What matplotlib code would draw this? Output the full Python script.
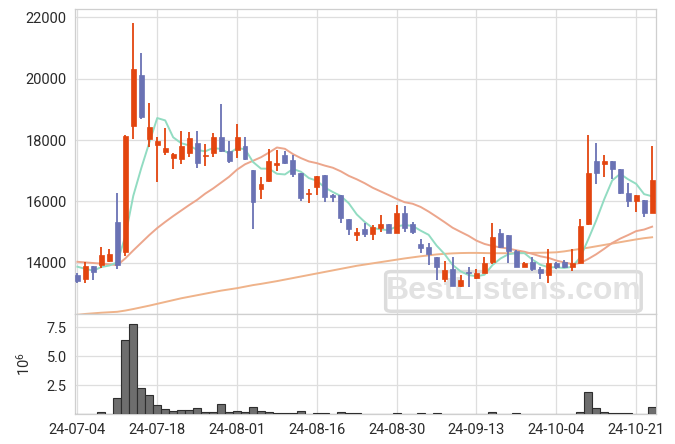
import matplotlib
matplotlib.use("Agg")
import matplotlib.pyplot as plt
import numpy as np
from matplotlib.patches import FancyBboxPatch

plt.rcParams['font.family'] = ['Roboto', 'DejaVu Sans']

# ---------------- data ----------------
opens = [13600, 13460, 13890, 13925, 14065, 15330, 14360, 18456, 20120, 18040,
         17827, 17620, 17420, 17370, 17585, 17900, 17480, 17585, 18090, 17640,
         17675, 17805, 17020, 16395, 16675, 17195, 17510, 17350, 16915, 16250,
         16480, 16860, 16205, 16205, 15425, 14915, 15090, 14925, 15140, 15250,
         14980, 15630, 15260, 14610, 14500, 14195, 13470, 13795, 13250, 13705,
         13490, 13655, 14015, 14960, 14895, 14390, 13870, 14030, 13795, 13600,
         13980, 14033, 13870, 14000, 15260, 17315, 17210, 17315, 17045, 16280,
         16020, 16045, 15630]
highs = [13650, 14030, 13900, 14500, 14440, 16280, 18150, 21800, 20850, 19200,
         18110, 18380, 17590, 18300, 18270, 18300, 17860, 18220, 19165, 17975,
         18510, 18090, 17030, 16805, 17700, 17675, 17650, 17510, 16920, 16395,
         16830, 16860, 16230, 16210, 15430, 15120, 15305, 15230, 15555, 15255,
         15880, 15850, 15335, 14765, 14630, 14200, 14055, 14200, 13600, 13870,
         13785, 14175, 15285, 15090, 14900, 14400, 14025, 14175, 13870, 14435,
         14035, 14090, 14435, 15415, 18165, 17890, 17510, 17320, 17060, 16610,
         16210, 16050, 17805]
lows = [13330, 13350, 13440, 13820, 14030, 13790, 14220, 18020, 18700, 17780,
        16640, 17510, 17045, 17220, 17455, 17080, 17150, 17435, 17600, 17260,
        17405, 17350, 15090, 16065, 16640, 17000, 17210, 16785, 16010, 15955,
        16205, 15970, 15970, 15285, 14905, 14705, 14830, 14740, 15010, 14955,
        14975, 15010, 14935, 14305, 13925, 13435, 13360, 13245, 13200, 13220,
        13470, 13650, 13950, 14480, 13980, 13865, 13850, 13740, 13460, 13350,
        13795, 13840, 13740, 13985, 15230, 16565, 16785, 16720, 16250, 15805,
        15665, 15480, 15630]
closes = [13410, 13890, 13710, 14250, 14285, 13925, 18130, 20305, 18760, 18425,
          17967, 17750, 17545, 17805, 18055, 17240, 17510, 18090, 17650, 17325,
          18090, 17370, 15990, 16565, 17315, 17260, 17260, 16880, 16120, 16280,
          16825, 16150, 16150, 15470, 15100, 15000, 14925, 15155, 15260, 14960,
          15630, 15140, 15010, 14490, 14285, 13870, 13760, 13250, 13435, 13675,
          13675, 14000, 14830, 14500, 14380, 13870, 13980, 13785, 13655, 13980,
          13850, 13870, 13980, 15195, 16915, 16935, 17315, 17045, 16280, 16020,
          16205, 15630, 16695]
volume_m = [0.03, 0.03, 0.03, 0.17, 0.03, 1.37, 6.43, 7.80, 2.23, 1.63,
            0.77, 0.46, 0.26, 0.34, 0.34, 0.51, 0.17, 0.17, 0.91, 0.17,
            0.26, 0.17, 0.60, 0.26, 0.17, 0.09, 0.09, 0.09, 0.26, 0.03,
            0.09, 0.09, 0.03, 0.17, 0.10, 0.10, 0.03, 0.03, 0.03, 0.03,
            0.10, 0.03, 0.03, 0.10, 0.03, 0.10, 0.03, 0.03, 0.03, 0.03,
            0.03, 0.03, 0.20, 0.03, 0.03, 0.10, 0.03, 0.03, 0.03, 0.03,
            0.0, 0.0, 0.0, 0.20, 1.94, 0.57, 0.23, 0.14, 0.14, 0.14,
            0.06, 0.06, 0.66]
ma5 = [13870, 13800, 13740, 13860, 13909, 14012, 14860, 16179, 17081, 17909,
       18717, 18641, 18089, 17898, 17824, 17679, 17631, 17740, 17709, 17563,
       17733, 17705, 17285, 17068, 17066, 16900, 16878, 17056, 16967, 16760,
       16673, 16451, 16305, 16175, 15939, 15574, 15329, 15130, 15088, 15060,
       15186, 15229, 15200, 15046, 14911, 14559, 14283, 13931, 13720, 13598,
       13559, 13607, 13923, 14136, 14277, 14316, 14312, 14103, 13934, 13854,
       13850, 13828, 13867, 14175, 14762, 15379, 16068, 16681, 16898, 16719,
       16573, 16236, 16166]
ma20 = [14030, 14010, 13990, 13970, 13950, 13920, 14140, 14400, 14650, 14900,
        15130, 15330, 15520, 15700, 15880, 16050, 16250, 16420, 16610, 16801,
        17035, 17209, 17323, 17439, 17591, 17757, 17714, 17543, 17411, 17303,
        17246, 17166, 17097, 16980, 16832, 16720, 16591, 16444, 16325, 16206,
        16083, 15972, 15923, 15819, 15668, 15498, 15323, 15142, 15007, 14877,
        14720, 14612, 14546, 14498, 14462, 14405, 14358, 14289, 14209, 14160,
        14071, 14008, 13956, 13991, 14123, 14276, 14454, 14644, 14786, 14903,
        15030, 15082, 15175]
ma_long = [12300, 12330, 12350, 12370, 12385, 12400, 12440, 12490, 12545, 12600,
           12660, 12720, 12780, 12840, 12890, 12940, 12990, 13040, 13090, 13130,
           13170, 13220, 13270, 13310, 13355, 13400, 13450, 13500, 13550, 13600,
           13650, 13700, 13750, 13800, 13850, 13900, 13940, 13980, 14020, 14060,
           14100, 14140, 14175, 14210, 14240, 14270, 14290, 14305, 14315, 14320,
           14320, 14315, 14310, 14310, 14310, 14310, 14315, 14320, 14325, 14330,
           14340, 14370, 14410, 14450, 14490, 14535, 14580, 14625, 14670, 14715,
           14760, 14800, 14830]
tick_labels = ['24-07-04', '24-07-18', '24-08-01', '24-08-16', '24-08-30',
               '24-09-13', '24-10-04', '24-10-21']

# ---------------- styling ----------------
UP = '#e3450f'
DOWN = '#6a72b4'
GRID = '#dedede'
SPINE = '#cfcfcf'
TXT = '#2a2a2a'
FS = 10.5

o = np.array(opens, float); c = np.array(closes, float)
h = np.array(highs, float); l = np.array(lows, float)
x = np.arange(len(o))
up = c >= o
cols = np.where(up, UP, DOWN)

fig = plt.figure(figsize=(6.75, 4.44), dpi=100)
ax = fig.add_axes([0.1111, 0.2921, 0.8603, 0.6869])
axv = fig.add_axes([0.1111, 0.0669, 0.8603, 0.2252], sharex=ax)

# watermark
wm_box = FancyBboxPatch((0.535, 0.01), 0.44, 0.13, boxstyle="round,pad=0.0,rounding_size=0.01",
                        transform=ax.transAxes, facecolor='none', edgecolor='#dcdcdc',
                        linewidth=2.5, zorder=0.5)
ax.add_patch(wm_box)
ax.text(0.755, 0.075, 'BestListens.com', transform=ax.transAxes, ha='center', va='center',
        fontsize=23, fontweight='bold', family=['Liberation Sans', 'DejaVu Sans'],
        color='#e2e2e2', zorder=0.6)

# candles
ax.vlines(x, l, h, colors=cols, linewidth=1.3, zorder=3)
ax.bar(x, np.abs(c - o) + 1, bottom=np.minimum(o, c), width=0.62, color=cols,
       edgecolor=cols, linewidth=0.5, zorder=4)

# moving averages
ax.plot(x, ma_long, color='#efb38a', lw=1.4, zorder=2)
ax.plot(x, ma20, color='#eca68c', lw=1.4, zorder=2)
ax.plot(x, ma5, color='#92dcc2', lw=1.4, zorder=2)

ax.set_ylim(12318, 22262)
ax.set_xlim(-0.3, 72.45)
ax.set_yticks([14000, 16000, 18000, 20000, 22000])
ax.set_xticks(np.arange(0, 73, 10))
ax.tick_params(axis='x', labelbottom=False, length=0)
ax.tick_params(axis='y', length=0, pad=6, labelsize=FS, labelcolor=TXT)

# volume
axv.bar(x, volume_m, width=1.0, color='#6e6e6e', edgecolor='#2e2e2e', linewidth=0.8, zorder=3)
axv.set_ylim(0, 8.62)
axv.set_yticks([2.5, 5.0, 7.5])
axv.set_yticklabels(['2.5', '5.0', '7.5'])
axv.set_xticks(np.arange(0, 73, 10))
axv.set_xticklabels(tick_labels)
axv.tick_params(axis='both', length=0, pad=6, labelsize=FS, labelcolor=TXT)
axv.set_ylabel(r'$\mathregular{10^6}$', fontsize=FS, color=TXT, labelpad=10)

for a in (ax, axv):
    a.grid(True, color=GRID, linewidth=0.9, zorder=0)
    a.set_axisbelow(True)
    for s in a.spines.values():
        s.set_color(SPINE)
        s.set_linewidth(0.9)
    a.set_facecolor('white')

fig.savefig('out.png', dpi=100)
